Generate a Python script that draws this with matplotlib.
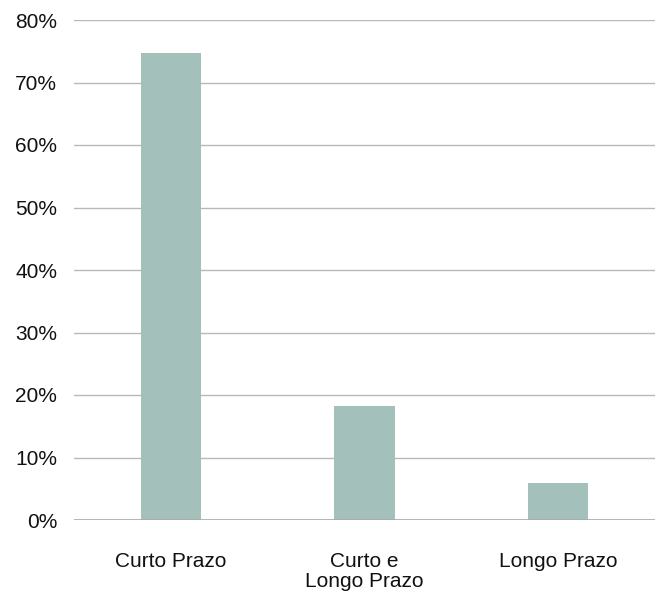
import matplotlib
matplotlib.use("Agg")
import matplotlib.pyplot as plt
from matplotlib.ticker import FuncFormatter

categories = ["Curto Prazo", "Curto e\nLongo Prazo", "Longo Prazo"]
values = [74.7, 18.2, 5.9]
yticks = [0, 10, 20, 30, 40, 50, 60, 70, 80]

plt.rcParams["font.family"] = ["Liberation Sans", "DejaVu Sans"]

fig = plt.figure(figsize=(6.55, 5.93), dpi=100)
ax = fig.add_axes([74 / 655, 1 - 520 / 593, 581 / 655, 500 / 593])

x = range(len(categories))
ax.bar(x, values, width=0.31, color="#a3c1ba", zorder=2)

ax.set_xlim(-0.5, len(categories) - 0.5)
ax.set_ylim(0, 80)
ax.set_yticks(yticks)
ax.yaxis.set_major_formatter(FuncFormatter(lambda v, p: f"{int(v)}%"))
ax.grid(axis="y", color="#b8b8b8", linewidth=1, zorder=0)
ax.axhline(0, color="#aaaaaa", linewidth=1.2, zorder=3)

for s in ax.spines.values():
    s.set_visible(False)

ax.set_xticks(list(x))
ax.set_xticklabels(categories, va="top", linespacing=1.1)
ax.tick_params(axis="both", length=0, labelsize=15, colors="#111111")
ax.tick_params(axis="x", pad=23)
ax.tick_params(axis="y", pad=12)

fig.savefig("out.png", dpi=100)
